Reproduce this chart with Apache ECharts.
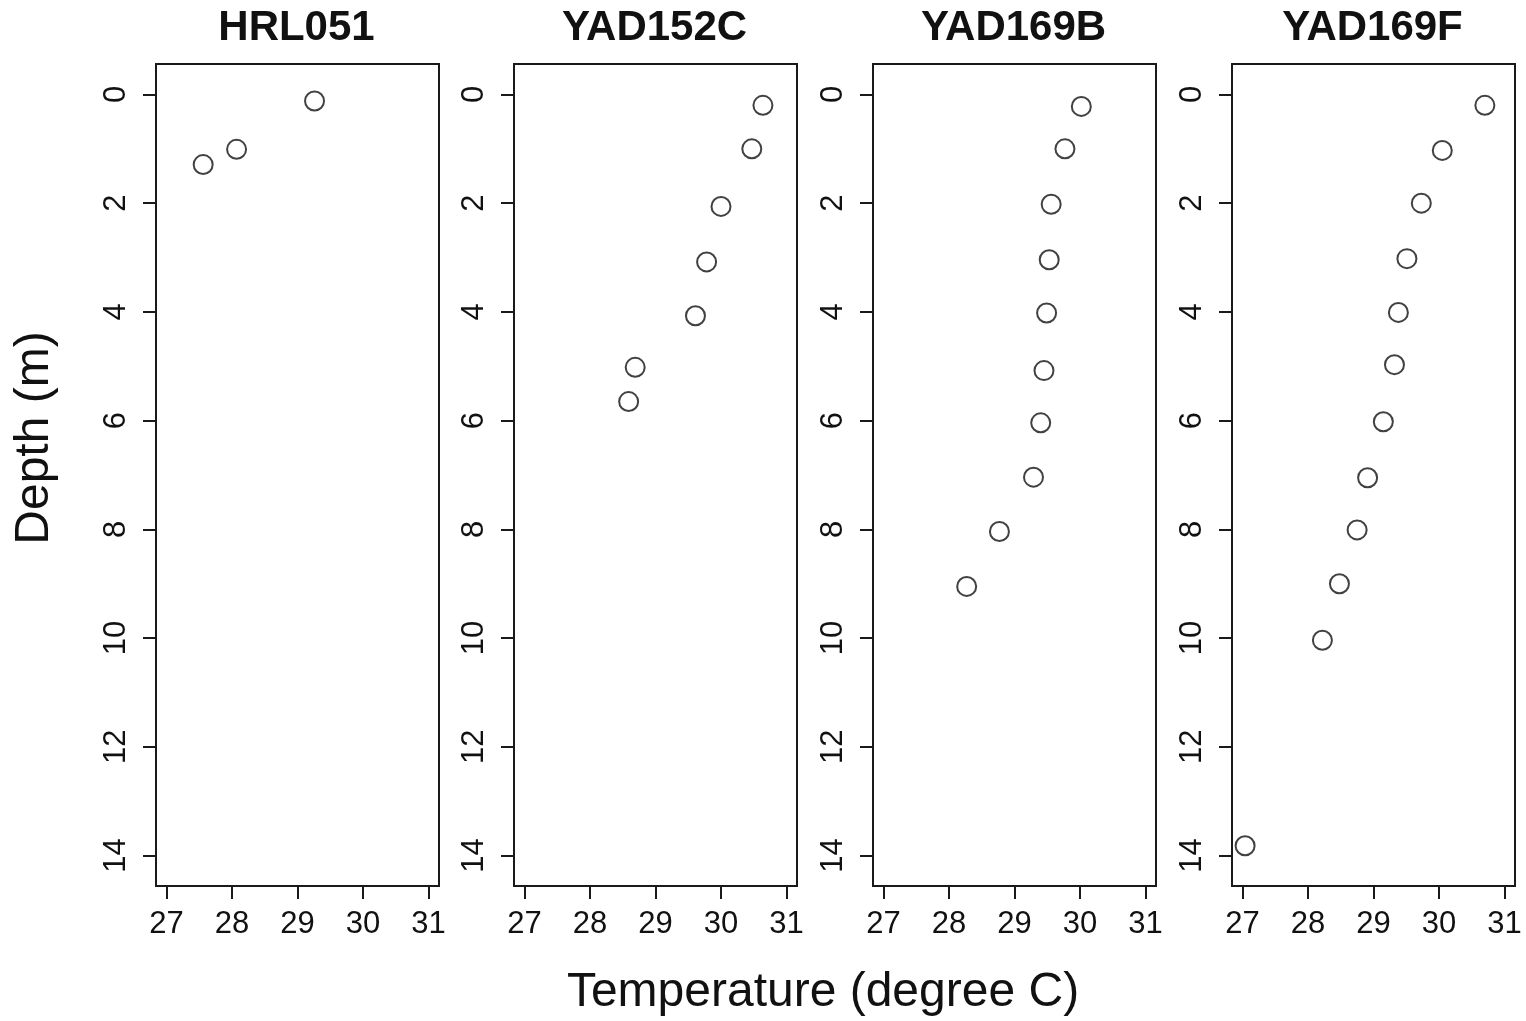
<!DOCTYPE html>
<html>
<head>
<meta charset="utf-8">
<script src="https://cdn.jsdelivr.net/npm/echarts@6/dist/echarts.min.js"></script>
<style>
html,body{margin:0;padding:0;background:#fff;}
#chart{width:1526px;height:1021px;}
</style>
</head>
<body>
<div id="chart"></div>
<script>
// ---- data ----
const panelNames = ["HRL051", "YAD152C", "YAD169B", "YAD169F"];
const hrl051Temp  = [29.26, 28.07, 27.56];
const hrl051Depth = [0.12, 1.01, 1.29];
const yad152cTemp  = [30.64, 30.47, 30.00, 29.78, 29.61, 28.69, 28.59];
const yad152cDepth = [0.20, 1.00, 2.06, 3.08, 4.07, 5.02, 5.65];
const yad169bTemp  = [30.02, 29.77, 29.56, 29.53, 29.49, 29.45, 29.40, 29.29, 28.77, 28.27];
const yad169bDepth = [0.22, 1.00, 2.02, 3.04, 4.02, 5.08, 6.04, 7.04, 8.04, 9.05];
const yad169fTemp  = [30.70, 30.05, 29.73, 29.51, 29.38, 29.32, 29.15, 28.91, 28.75, 28.48, 28.22, 27.04];
const yad169fDepth = [0.20, 1.03, 2.00, 3.02, 4.01, 4.97, 6.02, 7.05, 8.01, 9.00, 10.04, 13.82];
const xTicks = [27, 28, 29, 30, 31];
const yTicks = [0, 2, 4, 6, 8, 10, 12, 14];
const xLabel = "Temperature (degree C)";
const yLabel = "Depth (m)";

const temps  = [hrl051Temp, yad152cTemp, yad169bTemp, yad169fTemp];
const depths = [hrl051Depth, yad152cDepth, yad169bDepth, yad169fDepth];

// ---- layout ----
const FONT = "'Liberation Sans', Arial, sans-serif";
const lefts = [156, 514, 873, 1232];
const gw = 283, gtop = 64, gh = 822;

const grids = [], xAxes = [], yAxes = [], series = [];
const graphics = [
  {type: 'text', x: 823, y: 993, style: {text: xLabel, font: '48px ' + FONT, fill: '#111', textAlign: 'center', textVerticalAlign: 'middle'}},
  {type: 'text', x: 35, y: 438, rotation: Math.PI / 2, style: {text: yLabel, font: '48px ' + FONT, fill: '#111', textAlign: 'center', textVerticalAlign: 'middle'}}
];
lefts.forEach((l, i) => {
  grids.push({left: l, top: gtop, width: gw, height: gh, show: true,
    borderColor: '#1a1a1a', borderWidth: 2, backgroundColor: '#fff'});
  xAxes.push({type: 'value', gridIndex: i, min: 26.84, max: 31.16, position: 'bottom',
    axisLine: {show: false, onZero: false},
    splitLine: {show: false},
    axisTick: {show: true, length: 13, customValues: xTicks, lineStyle: {color: '#1a1a1a', width: 2}},
    axisLabel: {customValues: xTicks, margin: 23, color: '#111', fontSize: 31, fontFamily: FONT}
  });
  yAxes.push({type: 'value', gridIndex: i, inverse: true, min: -0.56, max: 14.56, position: 'left',
    axisLine: {show: false, onZero: false},
    splitLine: {show: false},
    axisTick: {show: true, length: 13, customValues: yTicks, lineStyle: {color: '#1a1a1a', width: 2}},
    axisLabel: {customValues: yTicks, rotate: 90, margin: 24, color: '#111', fontSize: 31, fontFamily: FONT}
  });
  series.push({type: 'scatter', xAxisIndex: i, yAxisIndex: i,
    data: temps[i].map((t, k) => [t, depths[i][k]]),
    symbol: 'circle', symbolSize: 19,
    itemStyle: {color: 'rgba(255,255,255,0)', borderColor: '#111', borderWidth: 2}
  });
  graphics.push({type: 'text', x: l + gw / 2 - 1, y: 28,
    style: {text: panelNames[i], font: 'bold 42px ' + FONT, fill: '#111', textAlign: 'center', textVerticalAlign: 'middle'}});
});

const chart = echarts.init(document.getElementById('chart'), null, {renderer: 'canvas'});
chart.setOption({
  animation: false,
  backgroundColor: '#fff',
  grid: grids,
  xAxis: xAxes,
  yAxis: yAxes,
  series: series,
  graphic: graphics
});
</script>
</body>
</html>
